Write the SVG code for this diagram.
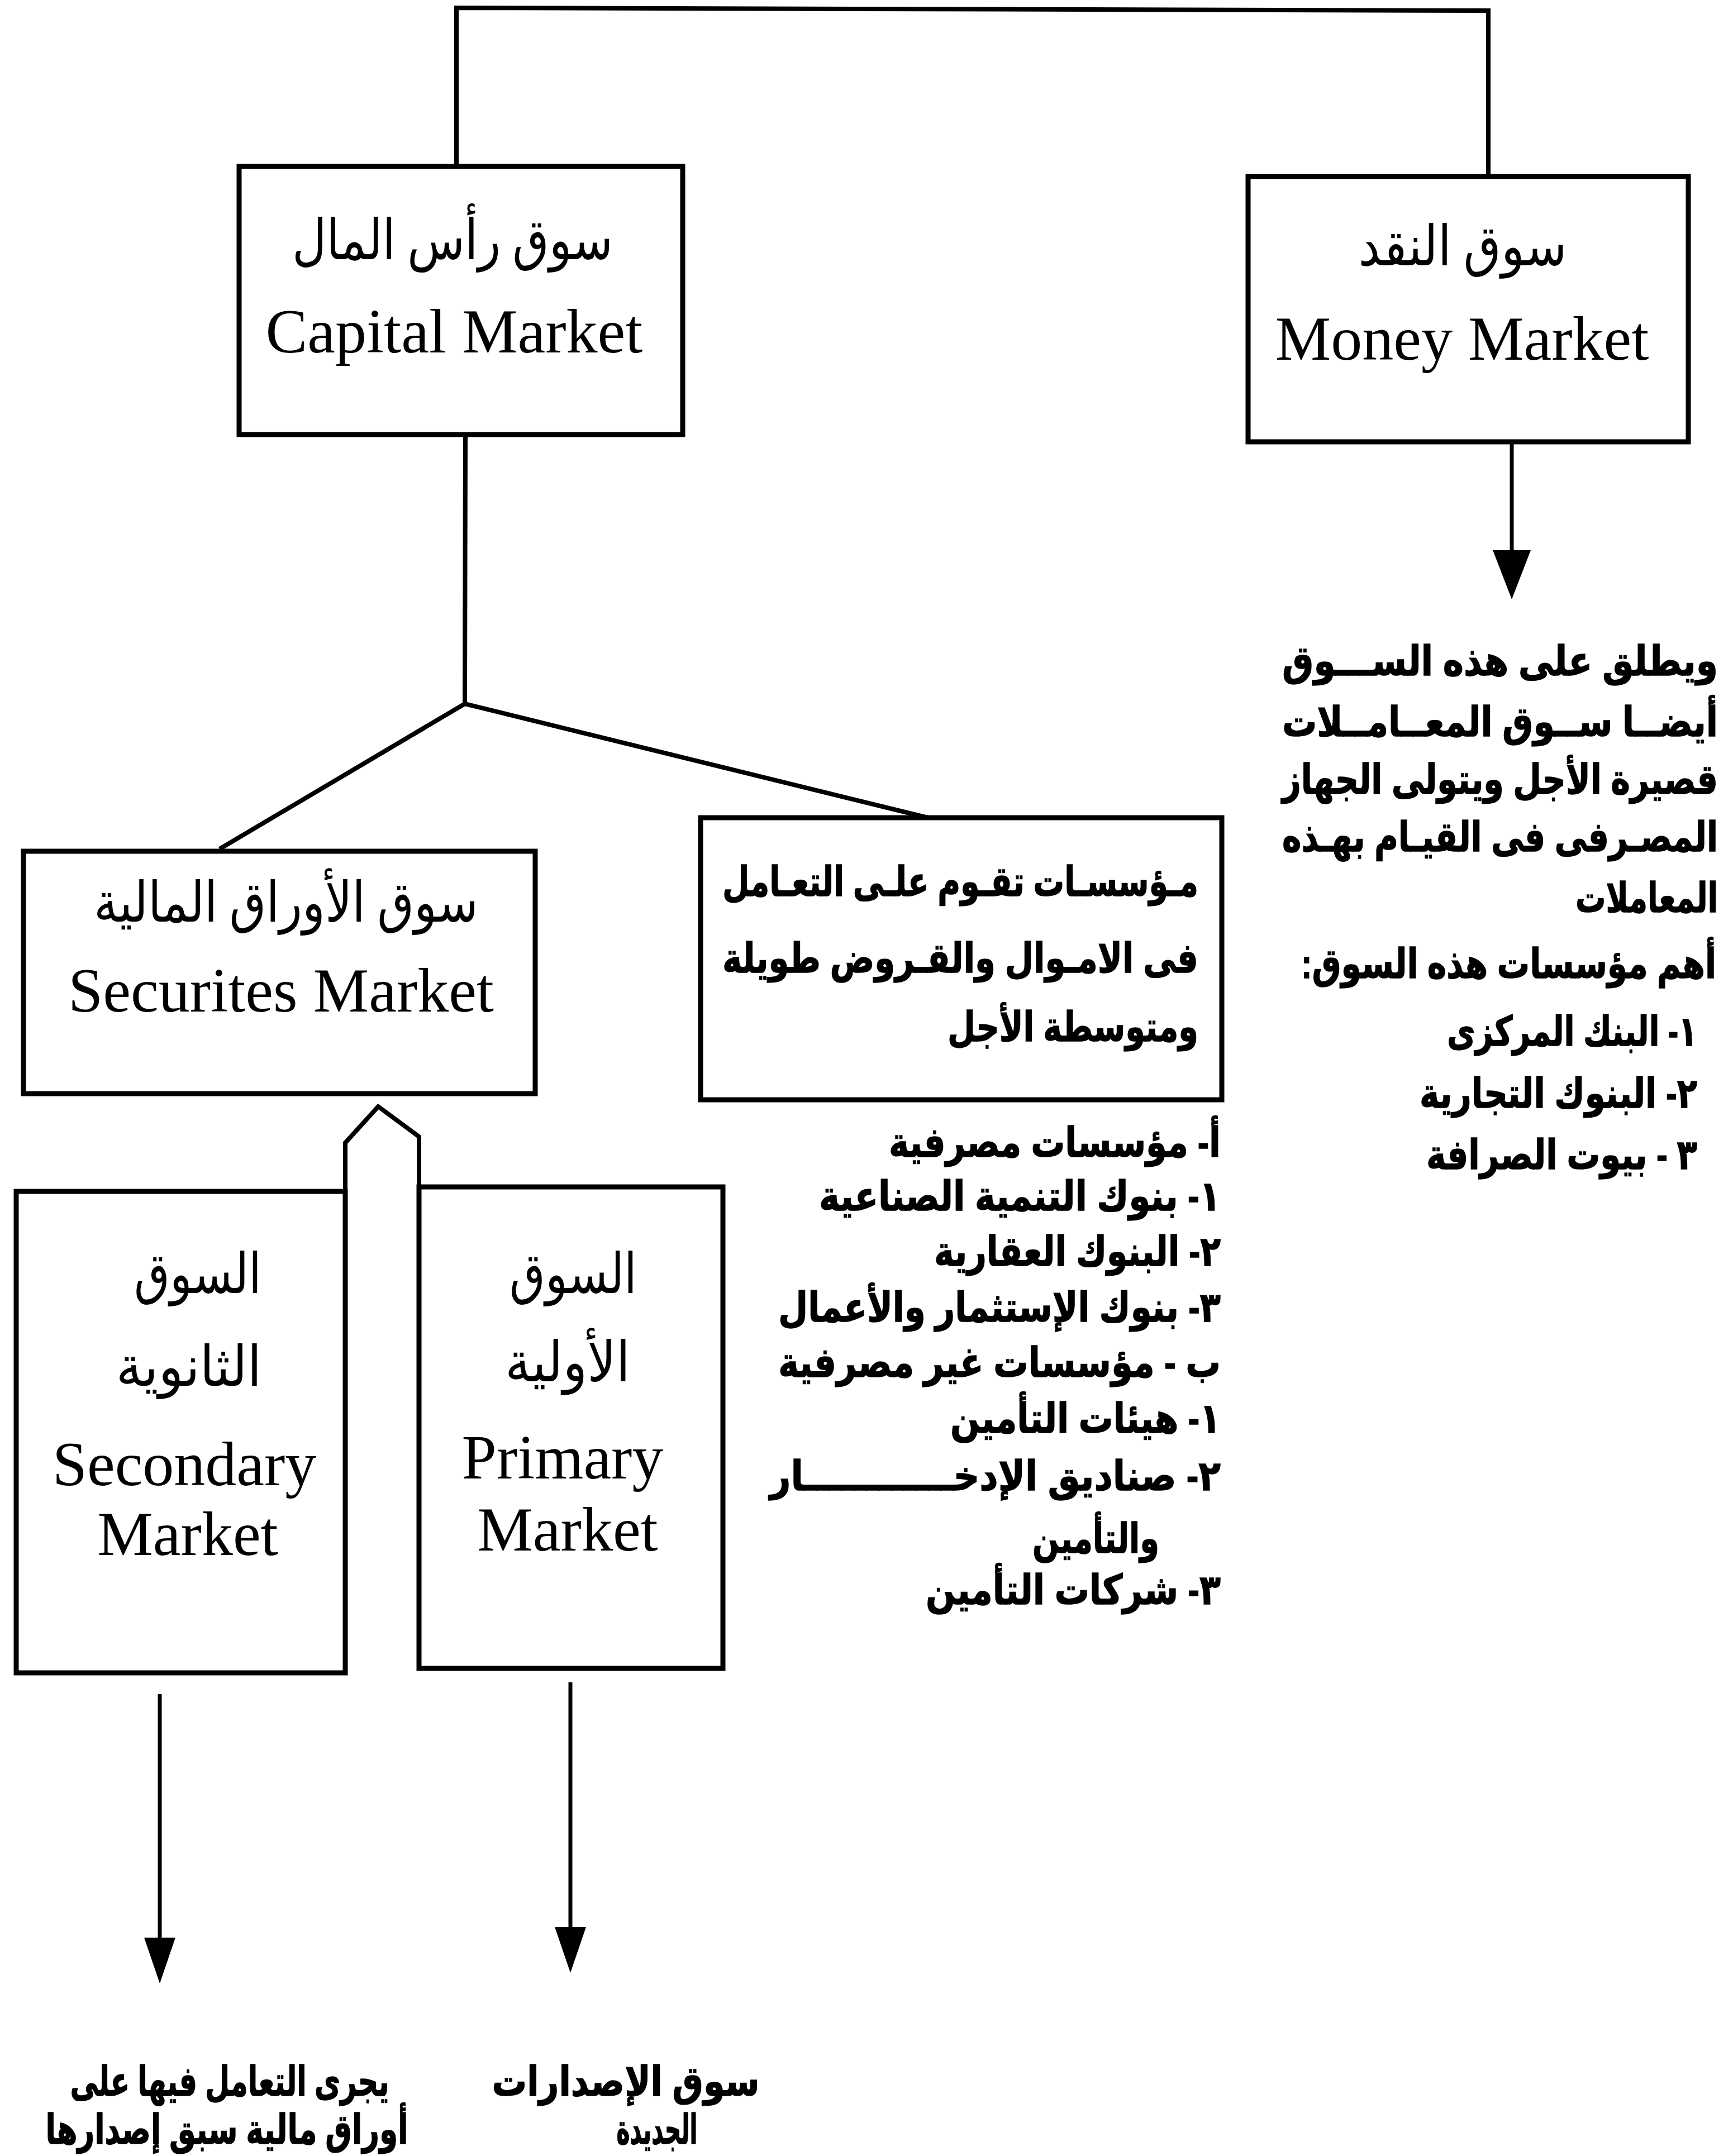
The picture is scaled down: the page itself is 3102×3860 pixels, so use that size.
<svg xmlns="http://www.w3.org/2000/svg" width="3102" height="3860" viewBox="0 0 3102 3860">
<style>
.box{fill:none;stroke:#000;stroke-width:9;stroke-linejoin:miter}
.conn{fill:none;stroke:#000;stroke-width:8;stroke-linejoin:miter}
.thin{fill:none;stroke:#000;stroke-width:7}
.tar{font-family:'Liberation Serif','DejaVu Sans',serif;font-size:100px;fill:#000}
.ten{font-family:'Liberation Serif',serif;font-size:112px;fill:#000}
.ar{font-family:'Liberation Sans','DejaVu Sans',sans-serif;font-weight:bold;font-size:74px;fill:#000;stroke:#000;stroke-width:1.5}
</style>
<defs>
<marker id="head" viewBox="0 0 88 68" refX="0" refY="34" markerWidth="88" markerHeight="68" markerUnits="userSpaceOnUse" orient="auto">
<path d="M0,0 L88,34 L0,68 Z" fill="#000"/>
</marker>
<marker id="headS" viewBox="0 0 82 56" refX="0" refY="28" markerWidth="82" markerHeight="56" markerUnits="userSpaceOnUse" orient="auto">
<path d="M0,0 L82,28 L0,56 Z" fill="#000"/>
</marker>
</defs>
<rect width="3102" height="3860" fill="#fff"/>

<g id="connectors">
<polyline class="conn" points="817,298 817,14 2664,19 2664,316"/>
<polyline class="conn" points="833,778 832,1260"/>
<polyline class="conn" stroke-width="10" points="393,1520 832,1260 1661,1464"/>
<polyline class="conn" points="618,2133 618,2046 677,1981 750,2035 750,2125"/>
<line class="thin" x1="2706" y1="792" x2="2706" y2="985" marker-end="url(#head)"/>
<line class="thin" x1="286" y1="3033" x2="286" y2="3469" marker-end="url(#headS)"/>
<line class="thin" x1="1021" y1="3012" x2="1021" y2="3450" marker-end="url(#headS)"/>
</g>

<g id="node-capital">
<rect class="box" x="428" y="298" width="794" height="480"/>
<text class="tar" x="810" y="464" text-anchor="middle" textLength="574" lengthAdjust="spacingAndGlyphs">سوق رأس المال</text>
<text class="ten" x="813" y="631" text-anchor="middle">Capital Market</text>
</g>

<g id="node-money">
<rect class="box" x="2234" y="316" width="788" height="475"/>
<text class="tar" x="2618" y="475" text-anchor="middle" textLength="373" lengthAdjust="spacingAndGlyphs">سوق النقد</text>
<text class="ten" x="2617" y="644" text-anchor="middle">Money Market</text>
</g>

<g id="node-securities">
<rect class="box" x="42" y="1524" width="916" height="434"/>
<text class="tar" x="512" y="1650" text-anchor="middle" textLength="688" lengthAdjust="spacingAndGlyphs">سوق الأوراق المالية</text>
<text class="ten" x="503" y="1811" text-anchor="middle">Securites Market</text>
</g>

<g id="node-institutions">
<rect class="box" x="1254" y="1464" width="933" height="505"/>
<text class="ar" x="2145" y="1604" direction="rtl" textLength="852" lengthAdjust="spacingAndGlyphs">مـؤسسـات تقـوم علـى التعـامل</text>
<text class="ar" x="2145" y="1741" direction="rtl" textLength="852" lengthAdjust="spacingAndGlyphs">فى الامـوال والقـروض طويلة</text>
<text class="ar" x="2145" y="1864" direction="rtl" textLength="449" lengthAdjust="spacingAndGlyphs">ومتوسطة الأجل</text>
</g>

<g id="node-secondary">
<rect class="box" x="29" y="2133" width="589" height="862"/>
<text class="tar" x="354" y="2315" text-anchor="middle" textLength="228" lengthAdjust="spacingAndGlyphs">السوق</text>
<text class="tar" x="338" y="2481" text-anchor="middle" textLength="261" lengthAdjust="spacingAndGlyphs">الثانوية</text>
<text class="ten" x="330" y="2659" text-anchor="middle">Secondary</text>
<text class="ten" x="336" y="2784" text-anchor="middle">Market</text>
</g>

<g id="node-primary">
<rect class="box" x="750" y="2125" width="544" height="862"/>
<text class="tar" x="1026" y="2315" text-anchor="middle" textLength="228" lengthAdjust="spacingAndGlyphs">السوق</text>
<text class="tar" x="1016" y="2473" text-anchor="middle" textLength="224" lengthAdjust="spacingAndGlyphs">الأولية</text>
<text class="ten" x="1007" y="2647" text-anchor="middle">Primary</text>
<text class="ten" x="1016" y="2776" text-anchor="middle">Market</text>
</g>

<g id="note-money">
<text class="ar" x="3075" y="1209" direction="rtl" textLength="780" lengthAdjust="spacingAndGlyphs">ويطلق على هذه الســـوق</text>
<text class="ar" x="3075" y="1318" direction="rtl" textLength="780" lengthAdjust="spacingAndGlyphs">أيضــا ســوق المعــامــلات</text>
<text class="ar" x="3075" y="1421" direction="rtl" textLength="780" lengthAdjust="spacingAndGlyphs">قصيرة الأجل ويتولى الجهاز</text>
<text class="ar" x="3075" y="1524" direction="rtl" textLength="780" lengthAdjust="spacingAndGlyphs">المصـرفى فى القيـام بهـذه</text>
<text class="ar" x="3075" y="1633" direction="rtl" textLength="255" lengthAdjust="spacingAndGlyphs">المعاملات</text>
<text class="ar" x="3072" y="1751" direction="rtl" textLength="743" lengthAdjust="spacingAndGlyphs">أهم مؤسسات هذه السوق:</text>
<text class="ar" x="3038" y="1872" direction="rtl" textLength="448" lengthAdjust="spacingAndGlyphs">١- البنك المركزى</text>
<text class="ar" x="3038" y="1983" direction="rtl" textLength="497" lengthAdjust="spacingAndGlyphs">٢- البنوك التجارية</text>
<text class="ar" x="3038" y="2093" direction="rtl" textLength="485" lengthAdjust="spacingAndGlyphs">٣ - بيوت الصرافة</text>
</g>

<g id="list-institutions">
<text class="ar" x="2185" y="2071" direction="rtl" textLength="594" lengthAdjust="spacingAndGlyphs">أ- مؤسسات مصرفية</text>
<text class="ar" x="2185" y="2167" direction="rtl" textLength="719" lengthAdjust="spacingAndGlyphs">١- بنوك التنمية الصناعية</text>
<text class="ar" x="2185" y="2266" direction="rtl" textLength="513" lengthAdjust="spacingAndGlyphs">٢- البنوك العقارية</text>
<text class="ar" x="2185" y="2366" direction="rtl" textLength="792" lengthAdjust="spacingAndGlyphs">٣- بنوك الإستثمار والأعمال</text>
<text class="ar" x="2185" y="2465" direction="rtl" textLength="792" lengthAdjust="spacingAndGlyphs">ب - مؤسسات غير مصرفية</text>
<text class="ar" x="2185" y="2565" direction="rtl" textLength="484" lengthAdjust="spacingAndGlyphs">١- هيئات التأمين</text>
<text class="ar" x="2185" y="2668" direction="rtl" textLength="807" lengthAdjust="spacingAndGlyphs">٢- صناديق الإدخــــــــــــار</text>
<text class="ar" x="2075" y="2780" direction="rtl" textLength="227" lengthAdjust="spacingAndGlyphs">والتأمين</text>
<text class="ar" x="2185" y="2872" direction="rtl" textLength="528" lengthAdjust="spacingAndGlyphs">٣- شركات التأمين</text>
</g>

<g id="note-secondary">
<text class="ar" x="411" y="3752" text-anchor="middle" textLength="571" lengthAdjust="spacingAndGlyphs">يجرى التعامل فيها على</text>
<text class="ar" x="406" y="3838" text-anchor="middle" textLength="649" lengthAdjust="spacingAndGlyphs">أوراق مالية سبق إصدارها</text>
</g>

<g id="note-primary">
<text class="ar" x="1120" y="3752" text-anchor="middle" textLength="479" lengthAdjust="spacingAndGlyphs">سوق الإصدارات</text>
<text class="ar" x="1176" y="3838" text-anchor="middle" textLength="145" lengthAdjust="spacingAndGlyphs">الجديدة</text>
</g>
</svg>
